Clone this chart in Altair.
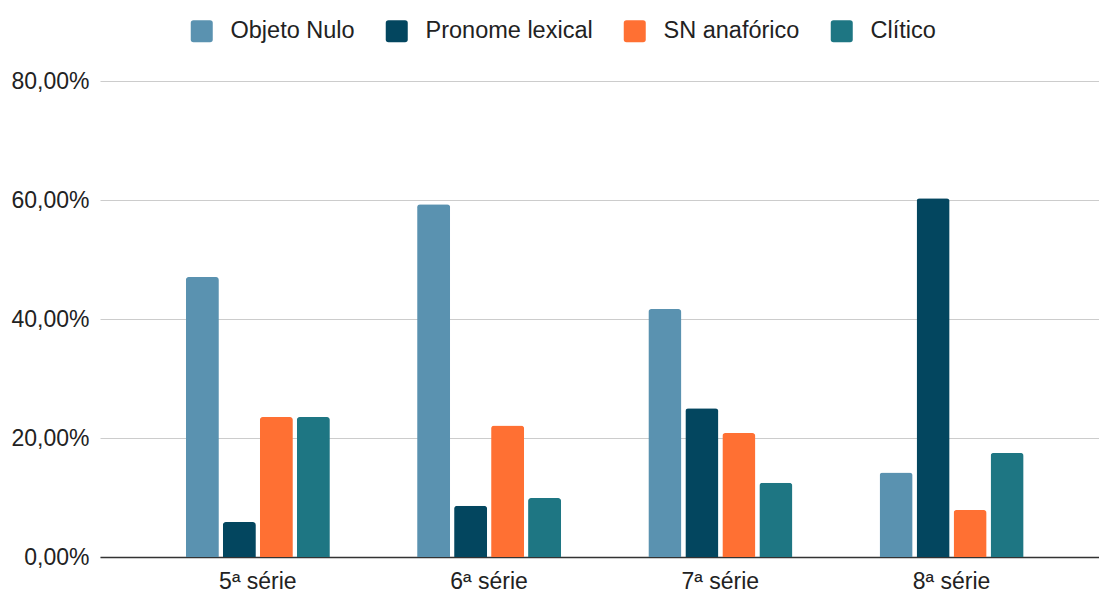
import altair as alt
import pandas as pd

# Share of each anaphoric strategy per school grade (percent)
grades = ["5ª série", "6ª série", "7ª série", "8ª série"]
strategies = ["Objeto Nulo", "Pronome lexical", "SN anafórico", "Clítico"]
colors = ["#5a92b0", "#03465f", "#ff7033", "#1e7683"]

objeto_nulo = [47.06, 59.3, 41.67, 14.2]
pronome_lexical = [5.88, 8.6, 25.0, 60.3]
sn_anaforico = [23.53, 22.1, 20.83, 7.9]
clitico = [23.53, 9.9, 12.5, 17.5]

series = [objeto_nulo, pronome_lexical, sn_anaforico, clitico]
rows = []
for name, vals in zip(strategies, series):
    for g, v in zip(grades, vals):
        rows.append({"serie": g, "estrategia": name, "valor": v})
df = pd.DataFrame(rows)

rounded_square = (
    "M -0.75,-1 H 0.75 Q 1,-1 1,-0.75 V 0.75 Q 1,1 0.75,1 H -0.75 "
    "Q -1,1 -1,0.75 V -0.75 Q -1,-1 -0.75,-1 Z"
)

font = "Liberation Sans"
text_color = "#222222"

chart = (
    alt.Chart(df)
    .mark_bar(cornerRadiusTopLeft=3, cornerRadiusTopRight=3)
    .encode(
        x=alt.X(
            "serie:N",
            sort=grades,
            title=None,
            scale=alt.Scale(paddingInner=0.2173, paddingOuter=0.2687, align=0.542),
            axis=alt.Axis(
                labelAngle=0,
                labelFontSize=23,
                labelFont=font,
                labelColor=text_color,
                labelPadding=13,
                ticks=False,
                domain=True,
                domainColor="#333333",
                domainWidth=1.5,
                grid=False,
            ),
        ),
        xOffset=alt.XOffset(
            "estrategia:N",
            sort=strategies,
            scale=alt.Scale(paddingInner=0.108, paddingOuter=0.5),
        ),
        y=alt.Y(
            "valor:Q",
            title=None,
            scale=alt.Scale(domain=[0, 80], nice=False),
            axis=alt.Axis(
                values=[0, 20, 40, 60, 80],
                labelExpr="replace(format(datum.value, '.2f'), '.', ',') + '%'",
                labelFontSize=23,
                labelFont=font,
                labelColor=text_color,
                labelPadding=11,
                ticks=False,
                domain=False,
                grid=True,
                gridColor="#cccccc",
                gridWidth=1,
            ),
        ),
        color=alt.Color(
            "estrategia:N",
            sort=strategies,
            scale=alt.Scale(domain=strategies, range=colors),
            legend=alt.Legend(
                title=None,
                orient="none",
                direction="horizontal",
                columns=4,
                legendX=90,
                legendY=-62,
                padding=0,
                symbolType=rounded_square,
                symbolSize=484,
                symbolStrokeWidth=0,
                labelFontSize=23.5,
                labelFont=font,
                labelColor=text_color,
                labelLimit=400,
                labelOffset=17,
                columnPadding=30,
            ),
        ),
    )
    .properties(
        width=999,
        height=476,
        autosize=alt.AutoSizeParams(type="none"),
        padding={"left": 100, "top": 81, "right": 0, "bottom": 37},
        background="white",
    )
    .configure_view(stroke=None)
)

chart.save("out.html", embed_options={"renderer": "svg", "actions": False})
